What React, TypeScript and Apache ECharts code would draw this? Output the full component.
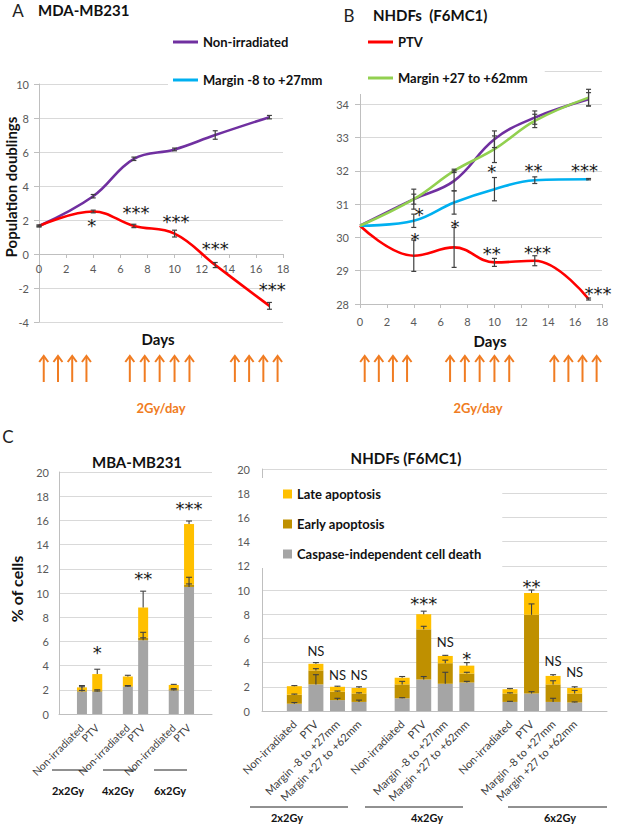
import React, { useEffect, useRef } from 'react';
import * as echarts from 'echarts';

// ---------- Panel A (MDA-MB231) ----------
const days = [0, 4, 7, 10, 13, 17];
const aNonIrr = [1.65, 3.4, 5.6, 6.15, 7.0, 8.05];
const aNonIrrErr = [0.05, 0.1, 0.1, 0.08, 0.25, 0.1];
const aPTV = [1.65, 2.5, 1.65, 1.2, -0.65, -3.05];
const aPTVErr = [0.05, 0.08, 0.1, 0.2, 0.15, 0.2];
const aSig: [number, number, string][] = [
  [3.9, 2.0, '*'], [7.15, 2.76, '***'], [10.1, 2.18, '***'], [13.0, 0.6, '***'], [17.2, -1.82, '***'],
];

// ---------- Panel B (NHDFs F6MC1) ----------
const bNonIrr = [30.35, 31.15, 31.7, 32.95, 33.6, 34.15];
const bNonIrrErr = [0, 0.3, 0.3, 0.25, 0.2, 0.2];
const bPTV = [30.35, 29.45, 29.7, 29.25, 29.3, 28.15];
const bPTVErr = [0, 0.47, 0.6, 0.12, 0.15, 0.03];
const bM8 = [30.35, 30.5, 31.05, 31.45, 31.72, 31.75];
const bM8Err = [0, 0.2, 0.35, 0.35, 0.1, 0.02];
const bM27 = [30.35, 31.15, 32.0, 32.65, 33.5, 34.2];
const bM27Err = [0, 0.15, 0.05, 0.4, 0.2, 0.25];
const bSig: [number, number, string][] = [
  [4.4, 30.83, '*'], [4.1, 30.08, '*'], [7.07, 30.47, '*'], [9.8, 32.12, '*'],
  [12.9, 32.15, '**'], [16.7, 32.15, '***'], [9.8, 29.68, '**'], [13.2, 29.71, '***'], [17.7, 28.48, '***'],
];

// irradiation days (arrows)
const arrowDays = [0.35, 1.4, 2.45, 3.5, 6.7, 7.8, 8.9, 10.0, 11.1, 14.45, 15.5, 16.55, 17.6];

// ---------- Panel C left (MBA-MB231) ----------
const doseGroups = ['2x2Gy', '4x2Gy', '6x2Gy'];
const c1Conds = ['Non-irradiated', 'PTV'];
const c1Gray = [1.85, 1.85, 2.25, 6.1, 1.95, 10.5];
const c1Early = [0.1, 0.1, 0.05, 0.2, 0.1, 0.2];
const c1Late = [0.25, 1.35, 0.8, 2.5, 0.35, 5.0];
const c1GrayErr = [0.1, 0.05, 0.05, 0.2, 0.05, 0.25];
const c1EarlyErr = [0.3, 0.05, 0.05, 0.45, 0.05, 0.6];
const c1LateErr = [0.15, 0.4, 0.1, 1.35, 0.05, 0.25];
const c1Sig: [number, number, string][] = [[1, 5.5, '*'], [3, 11.6, '**'], [5, 17.4, '***']];

// ---------- Panel C right (NHDFs F6MC1) ----------
const c2Conds = ['Non-irradiated', 'PTV', 'Margin -8 to +27mm', 'Margin +27 to +62mm'];
const c2Gray = [0.6, 2.2, 0.9, 0.75, 1.05, 2.6, 2.25, 2.35, 0.75, 1.45, 0.75, 0.7];
const c2Early = [0.75, 1.15, 0.7, 0.7, 1.15, 4.15, 1.7, 0.75, 0.7, 6.5, 1.45, 0.75];
const c2Late = [0.7, 0.55, 0.4, 0.45, 0.55, 1.25, 0.6, 0.65, 0.35, 1.8, 0.7, 0.45];
const c2GrayErr = [0.1, 0.8, 0.15, 0.15, 0.05, 0.25, 0.95, 0.1, 0.05, 0.15, 0.3, 0.05];
const c2EarlyErr = [0.05, 0.15, 0.05, 0.05, 0.25, 0.25, 0.25, 0.1, 0.05, 0.9, 0.3, 0.25];
const c2LateErr = [0.05, 0.1, 0.05, 0.1, 0.1, 0.25, 0.05, 0.25, 0.05, 0.25, 0.1, 0.1];
const c2Sig: [number, number, string][] = [
  [1, 5.0, 'NS'], [2, 3.0, 'NS'], [3, 3.0, 'NS'], [5, 9.3, '***'], [6, 5.7, 'NS'], [7, 4.75, '*'],
  [9, 10.7, '**'], [10, 4.1, 'NS'], [11, 3.2, 'NS'],
];

const FONT = 'Lato, "Open Sans", sans-serif';
const PURPLE = '#7030a0';
const RED = '#ff0000';
const CYAN = '#00b0f0';
const GREEN = '#92d050';
const ORANGE = '#f07c22';
const GRAY = '#a5a5a5';
const EARLY = '#bf9000';
const LATE = '#ffc000';
const ERRC = '#404040';

const LATE_N = 'Late apoptosis';
const EARLY_N = 'Early apoptosis';
const GRAY_N = 'Caspase-independent cell death';

// grid A geometry (used for the zero-crossing x axis)
const A_MIN = -4;
const A_MAX = 10;
const A_H = 238;

// slot layout for category axes (empty slots between dose groups)
function buildSlots(conds: string[]) {
  const labels: string[] = [''];
  const idx: number[] = [];
  doseGroups.forEach(() => {
    conds.forEach((c) => {
      idx.push(labels.length);
      labels.push(c);
    });
    labels.push('');
  });
  return { labels, idx };
}
const c1Slots = buildSlots(c1Conds);
const c2Slots = buildSlots(c2Conds);

function pad(vals: number[], slots: { labels: string[]; idx: number[] }) {
  const out: any[] = slots.labels.map(() => '-');
  vals.forEach((v, i) => (out[slots.idx[i]] = v));
  return out;
}

function errBoth(capW: number) {
  return (params: any, api: any) => {
    const x = api.value(0);
    const p1 = api.coord([x, api.value(1)]);
    const p2 = api.coord([x, api.value(2)]);
    const style = { stroke: ERRC, lineWidth: 1.2, fill: 'none' };
    return {
      type: 'group',
      children: [
        { type: 'line', shape: { x1: p1[0], y1: p1[1], x2: p2[0], y2: p2[1] }, style },
        { type: 'line', shape: { x1: p1[0] - capW / 2, y1: p1[1], x2: p1[0] + capW / 2, y2: p1[1] }, style },
        { type: 'line', shape: { x1: p2[0] - capW / 2, y1: p2[1], x2: p2[0] + capW / 2, y2: p2[1] }, style },
      ],
    };
  };
}
function errPlus(capW: number) {
  return (params: any, api: any) => {
    const x = api.value(0);
    const p1 = api.coord([x, api.value(1)]);
    const p2 = api.coord([x, api.value(2)]);
    const style = { stroke: ERRC, lineWidth: 1.1, fill: 'none' };
    return {
      type: 'group',
      children: [
        { type: 'line', shape: { x1: p1[0], y1: p1[1], x2: p2[0], y2: p2[1] }, style },
        { type: 'line', shape: { x1: p2[0] - capW / 2, y1: p2[1], x2: p2[0] + capW / 2, y2: p2[1] }, style },
      ],
    };
  };
}
function arrowRender(yMin: number, offTop: number, offBottom: number) {
  return (params: any, api: any) => {
    const p = api.coord([api.value(0), yMin]);
    const x = p[0];
    const tip = p[1] + offTop;
    const base = p[1] + offBottom;
    const style = { stroke: ORANGE, lineWidth: 2, fill: 'none' };
    return {
      type: 'group',
      children: [
        { type: 'line', shape: { x1: x, y1: tip + 1, x2: x, y2: base }, style },
        { type: 'polyline', shape: { points: [[x - 4.5, tip + 6], [x, tip], [x + 4.5, tip + 6]] }, style },
      ],
    };
  };
}

function lineSeries(name: string, color: string, vals: number[], gi: number) {
  return {
    type: 'line', name, xAxisIndex: gi, yAxisIndex: gi, smooth: 0.4, symbol: 'none',
    lineStyle: { color, width: 2.6 }, itemStyle: { color },
    data: days.map((d, i) => [d, vals[i]]), z: 3,
  };
}
function lineErr(vals: number[], errs: number[], gi: number) {
  const data: number[][] = [];
  days.forEach((d, i) => { if (errs[i] > 0.015) data.push([d, vals[i] - errs[i], vals[i] + errs[i]]); });
  return { type: 'custom', xAxisIndex: gi, yAxisIndex: gi, renderItem: errBoth(5), data, z: 4, clip: false, silent: true };
}
// significance marks (asterisks / NS) placed at data coordinates
function sigSeries(items: [number, number, string][], gi: number) {
  return {
    type: 'custom', xAxisIndex: gi, yAxisIndex: gi, clip: false, silent: true, z: 6,
    data: items.map((s) => [s[0], s[1]]),
    renderItem: (params: any, api: any) => {
      const t = items[params.dataIndex][2];
      const star = t.startsWith('*');
      const p = api.coord([api.value(0), api.value(1)]);
      return {
        type: 'text', x: p[0], y: p[1] + (star ? 5 : 0),
        style: {
          text: t, fill: '#1a1a1a',
          fontSize: star ? 18 : 13, fontWeight: 'normal',
          fontFamily: star ? '"DejaVu Sans", sans-serif' : FONT,
          align: 'center', verticalAlign: 'middle', textAlign: 'center', textVerticalAlign: 'middle',
        },
      };
    },
  };
}
function stackBars(gi: number, slots: any, gray: number[], early: number[], late: number[], bw: number, stack: string) {
  return [
    { type: 'bar', name: GRAY_N, stack, xAxisIndex: gi, yAxisIndex: gi, barWidth: bw, itemStyle: { color: GRAY }, data: pad(gray, slots) },
    { type: 'bar', name: EARLY_N, stack, xAxisIndex: gi, yAxisIndex: gi, barWidth: bw, itemStyle: { color: EARLY }, data: pad(early, slots) },
    { type: 'bar', name: LATE_N, stack, xAxisIndex: gi, yAxisIndex: gi, barWidth: bw, itemStyle: { color: LATE }, data: pad(late, slots) },
  ];
}
function stackErr(gi: number, slots: any, gray: number[], early: number[], late: number[], ge: number[], ee: number[], le: number[]) {
  const data: number[][] = [];
  gray.forEach((g, i) => {
    const s = slots.idx[i];
    const t1 = g, t2 = g + early[i], t3 = g + early[i] + late[i];
    data.push([s, t1, t1 + ge[i]]);
    data.push([s, t2, t2 + ee[i]]);
    data.push([s, t3, t3 + le[i]]);
  });
  return { type: 'custom', xAxisIndex: gi, yAxisIndex: gi, renderItem: errPlus(6), data, z: 5, clip: false, silent: true };
}

const tickLabel = { color: '#595959', fontSize: 11, fontFamily: FONT };
const gridLine = { show: true, lineStyle: { color: '#d9d9d9', width: 1 } };
const axLine = { show: true, lineStyle: { color: '#bfbfbf', width: 1 } };

function txt(text: string, x: number, y: number, opts: any = {}) {
  return {
    type: 'text', x, y, rotation: opts.rotation || 0, z: 10,
    style: {
      text, fill: opts.color || '#111', fontSize: opts.size || 13, fontWeight: opts.weight || 'bold', fontFamily: FONT,
      align: opts.align || 'center', verticalAlign: 'middle', textAlign: opts.align || 'center', textVerticalAlign: 'middle',
    },
  };
}
function hline(x1: number, x2: number, y: number) {
  return { type: 'line', shape: { x1, y1: y, x2, y2: y }, style: { stroke: '#222', lineWidth: 1 }, z: 10 };
}

const legBase: any = {
  orient: 'vertical', backgroundColor: '#fff', icon: 'rect', itemWidth: 25, itemHeight: 3, selectedMode: false,
  textStyle: { fontFamily: FONT, fontWeight: 'bold', fontSize: 13, color: '#111', lineHeight: 16 },
};

const option: any = {
  animation: false,
  backgroundColor: '#fff',
  grid: [
    { left: 39, top: 84, width: 244, height: A_H },
    { left: 360, top: 71, width: 242, height: 233 },
    { left: 59, top: 472, width: 153, height: 242 },
    { left: 262, top: 469, width: 345, height: 242 },
  ],
  xAxis: [
    {
      gridIndex: 0, type: 'value', min: 0, max: 18, interval: 2,
      // x axis crosses the y axis at 0
      offset: -((0 - A_MIN) / (A_MAX - A_MIN)) * A_H,
      axisLine: { onZero: false, ...axLine }, axisTick: { show: true, length: 4, lineStyle: { color: '#bfbfbf' } },
      axisLabel: { ...tickLabel, margin: 9 }, splitLine: { show: false },
    },
    {
      gridIndex: 1, type: 'value', min: 0, max: 18, interval: 2,
      axisLine: axLine, axisTick: { show: true, length: 4, lineStyle: { color: '#bfbfbf' } },
      axisLabel: { ...tickLabel, margin: 12 }, splitLine: { show: false },
    },
    {
      gridIndex: 2, type: 'category', data: c1Slots.labels, axisLine: axLine, axisTick: { show: false },
      axisLabel: { color: '#404040', fontSize: 10.5, fontFamily: FONT, rotate: 45, interval: 0, margin: 12 },
    },
    {
      gridIndex: 3, type: 'category', data: c2Slots.labels, axisLine: axLine, axisTick: { show: false },
      axisLabel: { color: '#404040', fontSize: 11, fontFamily: FONT, rotate: 45, interval: 0, margin: 11 },
    },
  ],
  yAxis: [
    { gridIndex: 0, type: 'value', min: A_MIN, max: A_MAX, interval: 2, axisLine: axLine, axisLabel: { ...tickLabel, margin: 10 }, splitLine: gridLine },
    { gridIndex: 1, type: 'value', min: 28, max: 35, interval: 1, axisLine: axLine, axisLabel: { ...tickLabel, margin: 11, showMaxLabel: false }, splitLine: gridLine },
    { gridIndex: 2, type: 'value', min: 0, max: 20, interval: 2, axisLine: axLine, axisLabel: { ...tickLabel, margin: 10 }, splitLine: gridLine },
    { gridIndex: 3, type: 'value', min: 0, max: 20, interval: 2, axisLine: axLine, axisLabel: { ...tickLabel, margin: 12 }, splitLine: gridLine },
  ],
  legend: [
    { ...legBase, data: ['Non-irradiated'], left: 168, top: 32, padding: [2, 5, 2, 5] },
    { ...legBase, data: ['Margin -8 to +27mm'], left: 168, top: 69, padding: [3, 5, 6, 5] },
    { ...legBase, data: ['PTV'], left: 363, top: 32, padding: [2, 5, 2, 5] },
    { ...legBase, data: ['Margin +27 to +62mm'], left: 352, top: 64, padding: [6, 17, 8, 16] },
    {
      ...legBase, data: [LATE_N, EARLY_N, GRAY_N], left: 262, top: 478, itemWidth: 9, itemHeight: 9, itemGap: 14,
      padding: [8, 21, 6, 21],
    },
  ],
  graphic: [
    txt('A', 18, 10, { weight: 'normal', size: 17, color: '#222' }),
    txt('MDA-MB231', 38, 10, { align: 'left', size: 15 }),
    txt('B', 349, 15, { weight: 'normal', size: 17, color: '#222' }),
    txt('NHDFs  (F6MC1)', 373, 15, { align: 'left', size: 15 }),
    txt('Population doublings', 11, 187, { size: 15, rotation: Math.PI / 2 }),
    txt('Days', 158, 339, { size: 15 }),
    txt('Days', 490, 341, { size: 15 }),
    txt('2Gy/day', 161, 408, { size: 13, color: ORANGE }),
    txt('2Gy/day', 478, 408, { size: 13, color: ORANGE }),
    txt('C', 8, 436, { weight: 'normal', size: 17, color: '#222' }),
    txt('MBA-MB231', 137, 462, { size: 15 }),
    txt('NHDFs (F6MC1)', 406, 458, { size: 15 }),
    txt('% of cells', 16, 589, { size: 16, rotation: Math.PI / 2 }),
    hline(52, 86, 770), hline(103, 136, 770), hline(154, 187, 770),
    txt(doseGroups[0], 68, 790, { size: 11 }),
    txt(doseGroups[1], 118, 790, { size: 11 }),
    txt(doseGroups[2], 170, 790, { size: 11 }),
    hline(250, 348, 807), hline(365, 463, 807), hline(508, 607, 807),
    txt(doseGroups[0], 287, 817, { size: 11 }),
    txt(doseGroups[1], 427, 817, { size: 11 }),
    txt(doseGroups[2], 560, 817, { size: 11 }),
  ],
  series: [
    // A
    lineSeries('Non-irradiated', PURPLE, aNonIrr, 0),
    lineSeries('PTV', RED, aPTV, 0),
    lineErr(aNonIrr, aNonIrrErr, 0),
    lineErr(aPTV, aPTVErr, 0),
    sigSeries(aSig, 0),
    { type: 'custom', xAxisIndex: 0, yAxisIndex: 0, renderItem: arrowRender(A_MIN, 34, 60), data: arrowDays.map((d) => [d]), clip: false, silent: true },
    // B
    lineSeries('Non-irradiated', PURPLE, bNonIrr, 1),
    lineSeries('PTV', RED, bPTV, 1),
    lineSeries('Margin -8 to +27mm', CYAN, bM8, 1),
    lineSeries('Margin +27 to +62mm', GREEN, bM27, 1),
    lineErr(bNonIrr, bNonIrrErr, 1),
    lineErr(bPTV, bPTVErr, 1),
    lineErr(bM8, bM8Err, 1),
    lineErr(bM27, bM27Err, 1),
    sigSeries(bSig, 1),
    { type: 'custom', xAxisIndex: 1, yAxisIndex: 1, renderItem: arrowRender(28, 52, 78), data: arrowDays.map((d) => [d]), clip: false, silent: true },
    // C left
    ...stackBars(2, c1Slots, c1Gray, c1Early, c1Late, 10, 'c1'),
    stackErr(2, c1Slots, c1Gray, c1Early, c1Late, c1GrayErr, c1EarlyErr, c1LateErr),
    sigSeries(c1Sig.map((s) => [c1Slots.idx[s[0]], s[1], s[2]] as [number, number, string]), 2),
    // C right
    ...stackBars(3, c2Slots, c2Gray, c2Early, c2Late, 15, 'c2'),
    stackErr(3, c2Slots, c2Gray, c2Early, c2Late, c2GrayErr, c2EarlyErr, c2LateErr),
    sigSeries(c2Sig.map((s) => [c2Slots.idx[s[0]], s[1], s[2]] as [number, number, string]), 3),
  ],
};

export default function App() {
  const ref = useRef<HTMLDivElement>(null);
  useEffect(() => {
    const chart = echarts.init(ref.current as HTMLDivElement, null, { renderer: 'svg' });
    chart.setOption(option);
    return () => chart.dispose();
  }, []);
  return (
    <div
      ref={ref}
      style={{ position: 'absolute', left: 0, top: 0, width: 617, height: 825, background: '#fff' }}
    />
  );
}
